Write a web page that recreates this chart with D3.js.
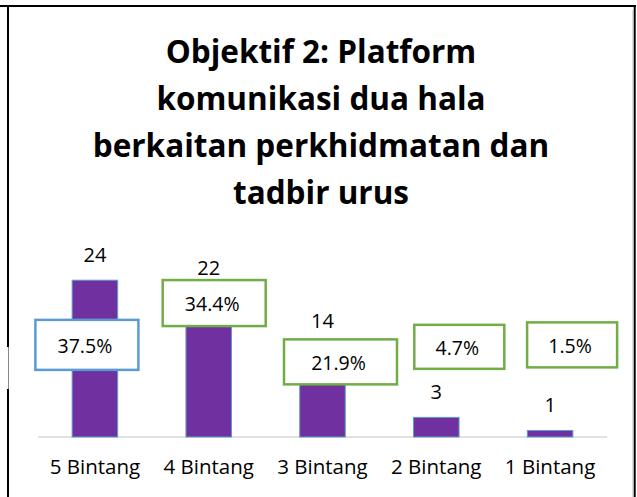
<!DOCTYPE html>
<html>
<head>
<meta charset="utf-8">
<script src="https://cdn.jsdelivr.net/npm/d3@7"></script>
<style>
  body { margin: 0; background: #fff; }
  svg { display: block; font-family: "Open Sans", sans-serif; }
</style>
</head>
<body>
<svg width="637" height="497"></svg>
<script>
// data
var categories = ["5 Bintang", "4 Bintang", "3 Bintang", "2 Bintang", "1 Bintang"];
var counts = [24, 22, 14, 3, 1];
var percents = ["37.5%", "34.4%", "21.9%", "4.7%", "1.5%"];
var titleLines = ["Objektif 2: Platform", "komunikasi dua hala", "berkaitan perkhidmatan dan", "tadbir urus"];

// where each percentage box sits (offset from bar centre, centre height in value units)
var boxDx = [-8, 5.5, 18, 23, 22];
var boxAt = [14.1, 20.5, 11.5, 13.8, 14.1];
var boxW = [103, 103, 113, 90, 90];
var boxH = [50, 46, 45, 44, 45];
var boxStroke = ["#5B9BD5", "#70AD47", "#70AD47", "#70AD47", "#70AD47"];

var svg = d3.select("svg");

// frame
svg.append("line").attr("x1", 0).attr("x2", 636).attr("y1", 6).attr("y2", 6)
    .attr("stroke", "#000").attr("stroke-width", 2);
svg.append("line").attr("x1", 8).attr("x2", 8).attr("y1", 5).attr("y2", 347)
    .attr("stroke", "#000").attr("stroke-width", 2);
svg.append("line").attr("x1", 8.5).attr("x2", 8.5).attr("y1", 347).attr("y2", 389)
    .attr("stroke", "#888").attr("stroke-width", 1);
svg.append("line").attr("x1", 8).attr("x2", 8).attr("y1", 389).attr("y2", 497)
    .attr("stroke", "#000").attr("stroke-width", 2);
svg.append("line").attr("x1", 634.7).attr("x2", 634.7).attr("y1", 5).attr("y2", 497)
    .attr("stroke", "#000").attr("stroke-width", 2);
svg.append("line").attr("x1", 632.5).attr("x2", 632.5).attr("y1", 10).attr("y2", 497)
    .attr("stroke", "#ddd").attr("stroke-width", 1);

// title
svg.append("text")
    .attr("text-anchor", "middle")
    .attr("font-weight", "bold")
    .attr("font-size", 31.5)
    .attr("fill", "#000")
  .selectAll("tspan")
  .data(titleLines)
  .join("tspan")
    .attr("x", 321)
    .attr("y", function(d, i) { return 63 + i * 47; })
    .text(function(d) { return d; });

var x = d3.scaleBand()
    .domain(categories)
    .range([38, 607])
    .paddingInner(0.6)
    .paddingOuter(0.3);

var y = d3.scaleLinear()
    .domain([0, 30])
    .range([437, 241]);

// baseline
svg.append("line")
    .attr("x1", x.range()[0]).attr("x2", x.range()[1])
    .attr("y1", y(0)).attr("y2", y(0))
    .attr("stroke", "#D9D9D9").attr("stroke-width", 1.5);

// bars
svg.selectAll("rect.bar")
  .data(counts)
  .join("rect")
    .attr("class", "bar")
    .attr("x", function(d, i) { return x(categories[i]); })
    .attr("width", x.bandwidth())
    .attr("y", function(d) { return y(d); })
    .attr("height", function(d) { return y(0) - y(d); })
    .attr("fill", "#7030A0")
    .attr("stroke", "#5B9BD5")
    .attr("stroke-width", 1);

// count labels
svg.selectAll("text.count")
  .data(counts)
  .join("text")
    .attr("class", "count")
    .attr("x", function(d, i) { return x(categories[i]) + x.bandwidth() / 2; })
    .attr("y", function(d) { return y(d) - 18; })
    .attr("text-anchor", "middle")
    .attr("font-size", 20)
    .attr("fill", "#000")
    .text(function(d) { return d; });

// percentage boxes
var boxes = svg.selectAll("g.pct")
  .data(percents)
  .join("g")
    .attr("class", "pct")
    .attr("transform", function(d, i) {
      var cx = x(categories[i]) + x.bandwidth() / 2 + boxDx[i];
      return "translate(" + cx + "," + y(boxAt[i]) + ")";
    });

boxes.append("rect")
    .attr("x", function(d, i) { return -boxW[i] / 2; })
    .attr("y", function(d, i) { return -boxH[i] / 2; })
    .attr("width", function(d, i) { return boxW[i]; })
    .attr("height", function(d, i) { return boxH[i]; })
    .attr("fill", "#fff")
    .attr("stroke", function(d, i) { return boxStroke[i]; })
    .attr("stroke-width", 2.5);

boxes.append("text")
    .attr("x", -2)
    .attr("y", 8)
    .attr("text-anchor", "middle")
    .attr("font-size", 19.5)
    .attr("fill", "#000")
    .text(function(d) { return d; });

// category labels
svg.selectAll("text.cat")
  .data(categories)
  .join("text")
    .attr("class", "cat")
    .attr("x", function(d) { return x(d) + x.bandwidth() / 2; })
    .attr("y", 474)
    .attr("text-anchor", "middle")
    .attr("font-size", 20.5)
    .attr("fill", "#000")
    .text(function(d) { return d; });
</script>
</body>
</html>
